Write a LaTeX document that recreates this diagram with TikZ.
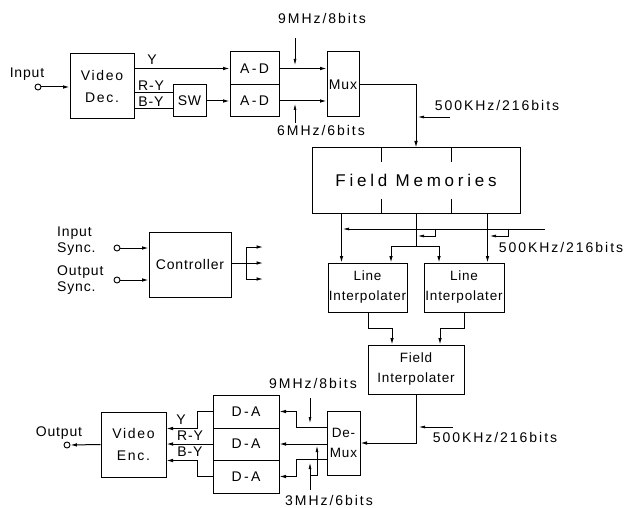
\documentclass[tikz,border=0pt]{standalone}
\usepackage{fontspec}
\setmainfont{Liberation Sans}
\newfontfamily\lblf[LetterSpace=6]{Liberation Sans}
\newfontfamily\ratef[LetterSpace=14]{Liberation Sans}
\newfontfamily\widef[LetterSpace=12]{Liberation Sans}
\newfontfamily\fmf[LetterSpace=22]{Liberation Sans}
\usetikzlibrary{arrows.meta,calc}
\begin{document}
\begin{tikzpicture}[x=1pt,y=-1pt,
  every node/.style={font=\lblf\fontsize{14}{22}\selectfont, inner sep=0pt},
  box/.style={draw, line width=1pt, rectangle, align=center},
  conn/.style={line width=1pt},
  arr/.style={conn,-{Latex[length=6.5pt,width=3.6pt]}},
  sarr/.style={line width=0.7pt,-{Latex[length=6pt,width=3pt]}},
  port/.style={circle, draw, line width=0.9pt, minimum size=6pt},
  rate/.style={font=\ratef\fontsize{14}{16}\selectfont},
  small/.style={font=\lblf\fontsize{13.5}{20}\selectfont},
  sync/.style={font=\lblf\fontsize{14}{16}\selectfont, align=left, anchor=west}
]
\useasboundingbox (0,0) rectangle (624,508);

% ---------- top chain ----------
\node[box,minimum width=64pt,minimum height=65pt] (vdec) at (102,86) {{\widef Video}\\{\widef Dec.}};
\node[port] (in) at (38,87) {};
\node (inl) at (27,74) {Input};
\draw[arr] (in.east) -- (in -| vdec.west);

\node[box,minimum width=33pt,minimum height=32pt] (sw) at (189.5,101) {SW};
\node[box,minimum width=49pt,minimum height=33pt] (ad1) at (254.5,68.5) {A\,-\,D};
\node[box,minimum width=49pt,minimum height=32pt] (ad2) at (254.5,101) {A\,-\,D};
\node[box,minimum width=32pt,minimum height=65pt] (mux) at (343,84.5) {Mux};

\node (ly) at (152,60) {Y};
\node (lry) at (151,86) {R-Y};
\node (lby) at (151,102) {B-Y};
\draw[arr] (vdec.east |- ad1.west) -- (ad1.west);
\coordinate (ry) at ([yshift=8pt]sw.west);
\coordinate (by) at ([yshift=-8pt]sw.west);
\draw[conn] (vdec.east |- ry) -- (ry);
\draw[conn] (vdec.east |- by) -- (by);
\draw[arr] (sw.east) -- (ad2.west);
\draw[arr] (ad1.east) -- (ad1.east -| mux.west);
\draw[arr] (ad2.east) -- (ad2.east -| mux.west);

\node[rate] (r9a) at (322,18) {9MHz/8bits};
\coordinate (t9a) at (295,38);
\coordinate (h9a) at (295,65);
\draw[sarr] (t9a) -- (h9a);
\node[rate] (r6) at (321,130) {6MHz/6bits};
\coordinate (t6) at (295,123);
\coordinate (h6) at (295,104);
\draw[sarr] (t6) -- (h6);

% ---------- field memories ----------
\node[box,minimum width=208pt,minimum height=65pt] (fm) at (416,180.5)
  {\fmf\fontsize{17}{19}\selectfont Field Memories};
\draw[arr] (mux.east) -| (fm.north);
\node[rate] (r500a) at (497,105) {500KHz/216bits};
\coordinate (t5a) at (450,117);
\coordinate (h5a) at (418,117);
\draw[sarr] (t5a) -- (h5a);
\draw[conn] ($(fm.north west)+(70,0)$) -- ++(0,15);
\draw[conn] ($(fm.north west)+(140,0)$) -- ++(0,15);
\draw[conn] ($(fm.south west)+(70,0)$) -- ++(0,-15);
\draw[conn] ($(fm.south west)+(140,0)$) -- ++(0,-15);

% ---------- line interpolaters ----------
\node[box,small,minimum width=79pt,minimum height=49pt] (li1) at (367.5,287.5) {Line\\Interpolater};
\node[box,small,minimum width=80pt,minimum height=49pt] (li2) at (464,287.5) {Line\\Interpolater};

\coordinate (fo1) at ($(fm.south west)+(30,0)$);
\coordinate (fo3) at ($(fm.south west)+(176,0)$);
\draw[arr] (fo1) -- (fo1 |- li1.north);
\draw[arr] (fo3) -- (fo3 |- li2.north);
\coordinate (mb) at (416,246);
\draw[conn] (fm.south) -- (mb);
\coordinate (mbl) at (391,246);
\coordinate (mbr) at (439,246);
\draw[conn] (mbl) -- (mbr);
\draw[arr] (mbl) -- (mbl |- li1.north);
\draw[arr] (mbr) -- (mbr |- li2.north);

\coordinate (t5b) at (545,229);
\coordinate (h5b) at (343,229);
\draw[sarr] (t5b) -- (h5b);
\coordinate (k1) at (435,229);
\coordinate (k2) at (508,229);
\draw[sarr] (k1) -- ++(0,7) -- (418,236);
\draw[sarr] (k2) -- ++(0,7) -- (490,236);
\node[rate] (r500b) at (561,247) {500KHz/216bits};

% ---------- field interpolater ----------
\node[box,small,minimum width=96pt,minimum height=49pt] (fi) at (416,369.5) {Field\\Interpolater};
\draw[arr] (li1.south -| 368,0) -- ++(0,16) -| (392,0 |- fi.north);
\draw[arr] (li2.south) -- ++(0,16) -| (440,0 |- fi.north);

% ---------- de-mux ----------
\node[box,small,minimum width=33pt,minimum height=64pt] (dmx) at (343.5,443) {De-\\Mux};
\draw[arr] (fi.south) |- (dmx.east);
\coordinate (t5c) at (453,427);
\coordinate (h5c) at (419,427);
\draw[sarr] (t5c) -- (h5c);
\node[rate] (r500c) at (495,437) {500KHz/216bits};

\node[box,minimum width=66pt,minimum height=33pt] (da1) at (246,411.5) {D\,-\,A};
\node[box,minimum width=66pt,minimum height=32pt] (da2) at (246,444) {D\,-\,A};
\node[box,minimum width=66pt,minimum height=33pt] (da3) at (246,476.5) {D\,-\,A};

\coordinate (dt) at ([yshift=16pt]dmx.west);
\coordinate (db) at ([yshift=-16pt]dmx.west);
\draw[arr] (dt) -- (296,0 |- dt) |- (da1.east);
\draw[arr] (dmx.west |- da2.east) -- (da2.east);
\draw[arr] (db) -- (296,0 |- db) |- (da3.east);

\node[rate] (r9b) at (313,383) {9MHz/8bits};
\coordinate (t9b) at (310,398);
\coordinate (h9b) at (310,423);
\draw[sarr] (t9b) -- (h9b);
\node[rate] (r3) at (329,500) {3MHz/6bits};
\coordinate (t3) at (310,490);
\coordinate (h3) at (310,463);
\draw[sarr] (t3) -- (h3);
\coordinate (k3) at (310,475);
\draw[sarr] (k3) -- (317,475) -- (317,446);

% ---------- video encoder ----------
\node[box,minimum width=65pt,minimum height=65pt] (venc) at (133.5,444.5) {{\widef Video}\\{\widef Enc.}};
\draw[arr] (da1.west) -- (197,0 |- da1.west) |- ([yshift=16pt]venc.east);
\draw[arr] (da2.west) -- (da2.west -| venc.east);
\draw[arr] (da3.west) -- (197,0 |- da3.west) |- ([yshift=-16pt]venc.east);
\node (oy) at (181,420) {Y};
\node (ory) at (190,436) {R-Y};
\node (oby) at (190,452) {B-Y};
\node[port] (out) at (67,445) {};
\node (outl) at (59,433) {Output};
\draw[arr] (venc.west) -- (out.east);

% ---------- controller ----------
\node[box,minimum width=82pt,minimum height=65pt] (ctrl) at (190,264.5) {Controller};
\node[sync] (isl) at (57,241) {Input\\Sync.};
\node[sync] (osl) at (57,280) {Output\\Sync.};
\node[port] (isp) at (117,248) {};
\node[port] (osp) at (117,280) {};
\draw[arr] (isp.east) -- (isp -| ctrl.west);
\draw[arr] (osp.east) -- (osp -| ctrl.west);
\coordinate (cj) at (246,263);
\draw[conn] (ctrl.east |- cj) -- (cj);
\coordinate (cjt) at (246,247);
\coordinate (cjb) at (246,279);
\draw[conn] (cjt) -- (cjb);
\draw[arr] (cjt) -- (263,247);
\draw[arr] (cj) -- (263,263);
\draw[arr] (cjb) -- (263,279);
\end{tikzpicture}
\end{document}
